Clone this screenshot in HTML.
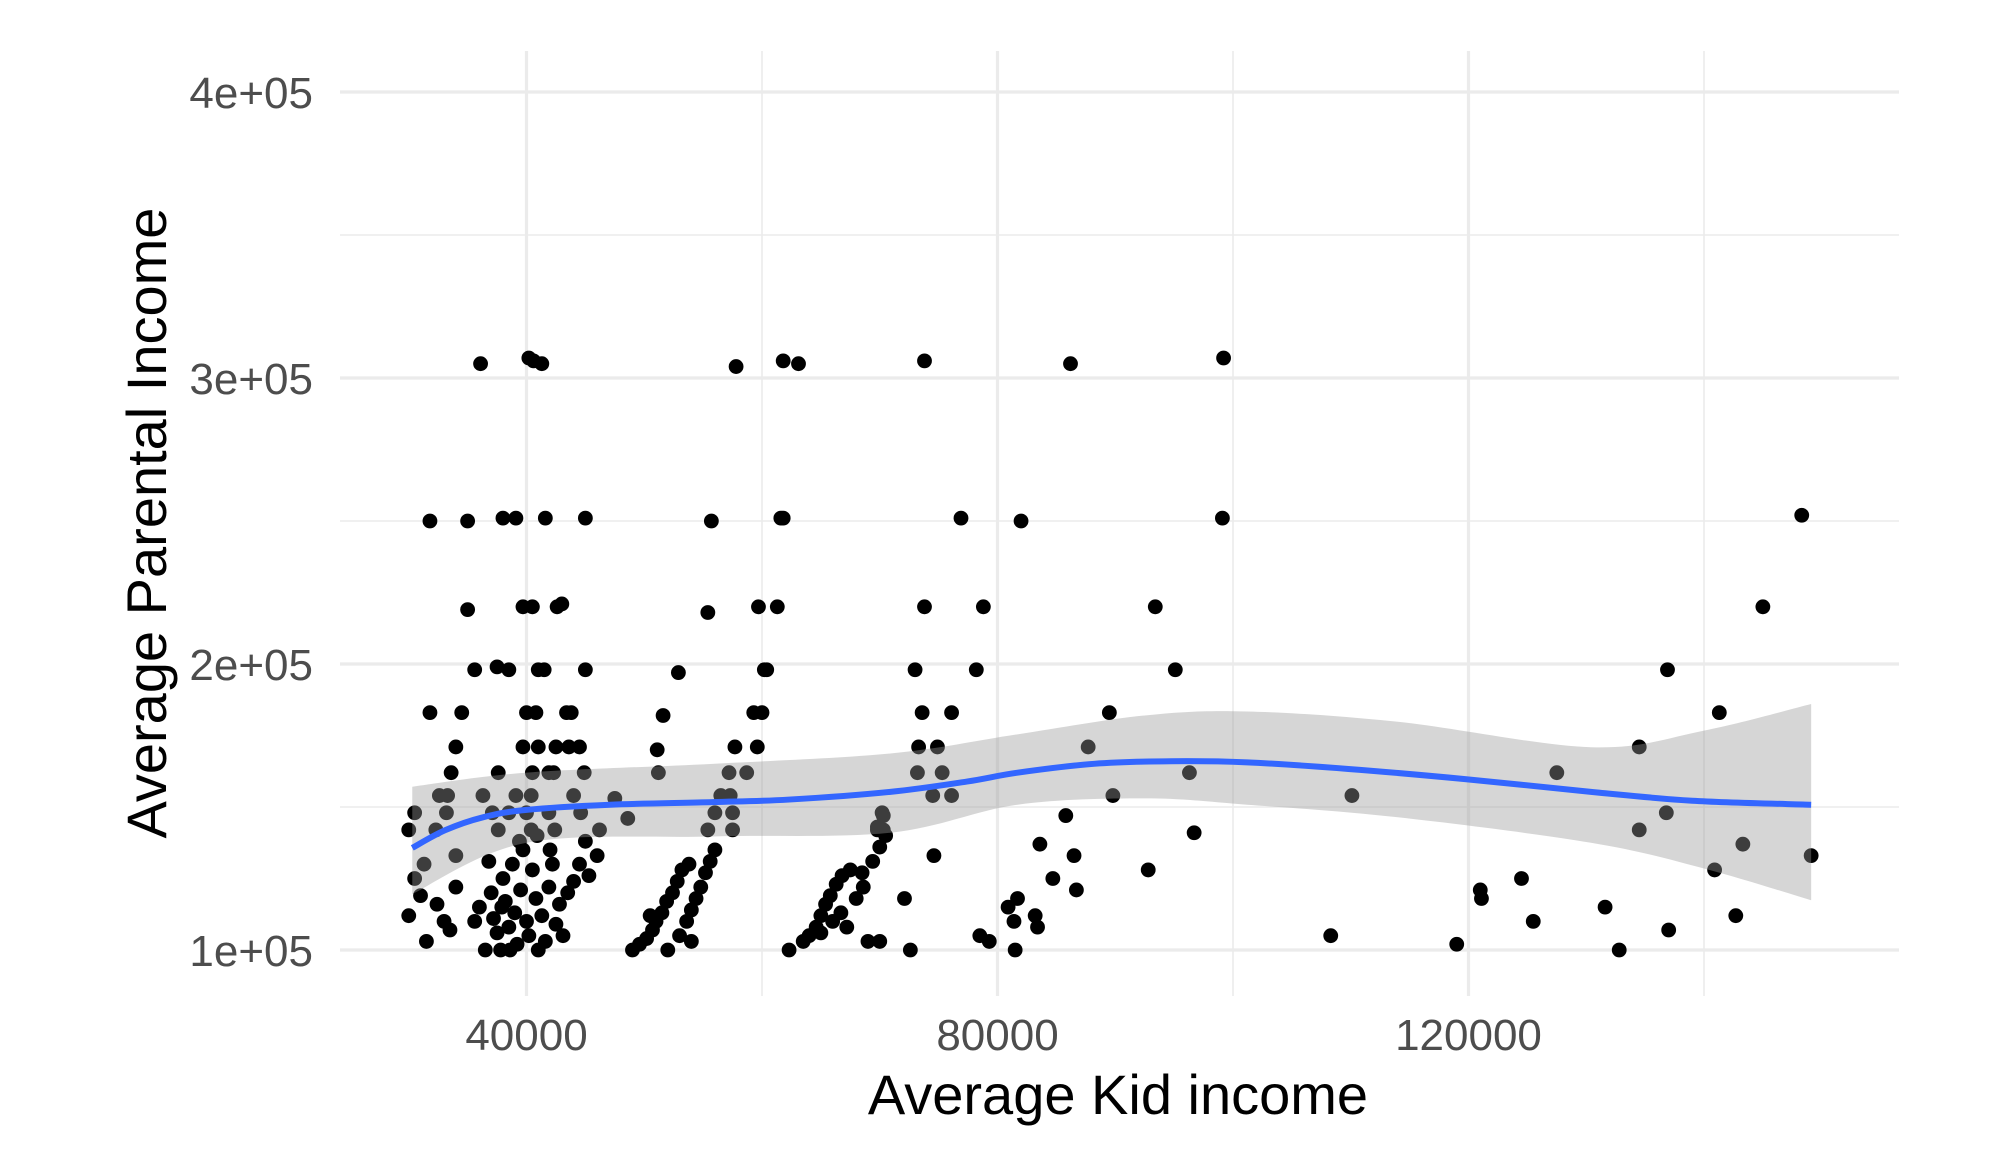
<!DOCTYPE html>
<html><head><meta charset="utf-8"><style>
html,body{margin:0;padding:0;background:#fff;}
svg{display:block;font-family:"Liberation Sans",Arial,sans-serif;}
</style></head><body>
<svg id="chart" width="1992" height="1154" viewBox="0 0 1992 1154" xmlns="http://www.w3.org/2000/svg">
<g id="grid"></g>
<g id="pts"></g>
<g id="smooth"></g>
<g id="axes"></g>
<text x="1118" y="1114" font-size="56" text-anchor="middle" fill="#000">Average Kid income</text>
<text transform="translate(166,523) rotate(-90)" font-size="56" text-anchor="middle" fill="#000">Average Parental Income</text>
</svg>
<script>
const xTicks=[40000,80000,120000];
const xTickLabels=["40000","80000","120000"];
const xMinor=[60000,100000,140000];
const yTicks=[100000,200000,300000,400000];
const yTickLabels=["1e+05","2e+05","3e+05","4e+05"];
const yMinor=[150000,250000,350000];
const ptX=[36.1,40.2,40.6,41.3,57.8,61.8,63.1,73.8,86.2,99.2,
31.8,35,38,39.1,41.6,45,55.7,61.6,61.8,76.9,82,99.1,148.3,
35,39.7,40.5,42.6,43,55.4,59.7,61.3,73.8,78.8,93.4,145,
35.6,37.5,38.5,41,41.5,45,52.9,60.2,60.4,73,78.2,95.1,136.9,
31.8,34.5,40,40.8,43.4,43.8,51.6,59.3,60,73.6,76.1,89.5,141.3,
34,39.7,41,42.5,43.6,44.5,51.1,57.7,59.6,73.3,74.9,87.7,134.5,
33.6,37.6,40.5,41.9,42.3,44.9,51.2,57.2,58.7,73.2,75.3,96.3,127.5,
32.6,33.3,36.3,39.1,40.4,44,47.5,56.5,57.3,74.5,76.1,89.8,110.1,
30.5,33.2,37.1,38.5,40,41.9,44.6,48.6,56,57.5,70.2,85.8,136.8,
30,32.3,37.6,40.4,42.4,46.2,55.4,57.5,69.8,70.3,96.7,134.5,
72.6,70,72.1,74.6,78.5,79.3,81.5,80.9,81.4,81.7,83.2,83.4,83.6,84.7,86.5,86.7,92.8,108.3,119,121,121.1,124.5,125.5,131.6,132.8,137,140.9,142.7,143.3,149.1,
30,30.5,31,31.3,31.5,32.4,33,33.5,34,34,36,36.5,37,37.2,37.5,37.8,38,38.2,38.5,38.8,39,39.2,39.5,39.7,40,40.2,40.5,40.8,41,41.3,41.6,41.9,42.2,42.5,42.8,43.1,43.5,44,44.5,45,45.3,46,39.4,38.6,40.9,36.8,37.9,42,35.6,
49,49.6,50.2,50.7,51,51.5,51.9,52.4,52.8,53.2,52,53,53.6,54,54.4,54.8,55.2,55.6,56,54,50.5,53.8,
62.3,63.5,64,64.6,65,65.4,65.8,66.3,66.8,67.5,68.5,69.4,70,70.5,69.8,70.3,65,66,66.7,67.2,68,68.6,69];
const ptY=[305,307,306,305,304,306,305,306,305,307,
250,250,251,251,251,251,250,251,251,251,250,251,252,
219,220,220,220,221,218,220,220,220,220,220,220,
198,199,198,198,198,198,197,198,198,198,198,198,198,
183,183,183,183,183,183,182,183,183,183,183,183,183,
171,171,171,171,171,171,170,171,171,171,171,171,171,
162,162,162,162,162,162,162,162,162,162,162,162,162,
154,154,154,154,154,154,153,154,154,154,154,154,154,
148,148,148,148,148,148,148,146,148,148,148,147,148,
142,142,142,142,142,142,142,142,142,142,141,142,
100,103,118,133,105,103,100,115,110,118,112,108,137,125,133,121,128,105,102,121,118,125,110,115,100,107,128,112,137,133,
112,125,119,130,103,116,110,107,122,133,115,100,120,111,106,100,125,117,108,130,113,102,121,135,110,105,128,118,100,112,103,122,130,109,116,105,120,124,130,138,126,133,138,100,140,131,115,135,110,
100,102,104,107,110,113,117,120,124,128,100,105,110,114,118,122,127,131,135,103,112,130,
100,103,105,108,112,116,119,123,126,128,127,131,136,140,143,147,106,110,113,108,118,122,103];
const fitX=[30.3,33.1,36.3,40,47.1,55.8,62.3,70.9,77.4,81.7,88.2,94.7,101.2,109.8,119.6,130.4,139,149.1];
const fitY=[135.7,141.9,146.4,149,150.8,151.7,152.6,155.3,158.9,162,165.1,166,165.6,163.3,159.8,155.3,152.2,150.8];
const bandX=[30.3,40,55.8,70.9,81.7,92.5,101.2,114,130.4,140,149.1];
const bandHi=[157.1,162,165.1,168.7,175.4,182,183.4,179.8,170.9,176.7,186];
const bandLo=[119.6,137.5,139.7,141,150.8,153,150.8,146.4,137.5,128.5,117.4];

const NS="http://www.w3.org/2000/svg";
const L=340,R=1899,T=51,B=996;
const sx=v=>526.5+(v-40000)*(471/40000);
const sy=v=>950-(v-100000)*(286/100000);
function mk(tag,attrs,parent){const e=document.createElementNS(NS,tag);for(const k in attrs)e.setAttribute(k,attrs[k]);parent.appendChild(e);return e;}
function curve(p,start){let d=start?'M'+p[0][0]+','+p[0][1]:'L'+p[0][0]+','+p[0][1];
for(let i=0;i<p.length-1;i++){const p0=p[Math.max(0,i-1)],p1=p[i],p2=p[i+1],p3=p[Math.min(p.length-1,i+2)];
const c1x=p1[0]+(p2[0]-p0[0])/6,c1y=p1[1]+(p2[1]-p0[1])/6,c2x=p2[0]-(p3[0]-p1[0])/6,c2y=p2[1]-(p3[1]-p1[1])/6;
d+='C'+c1x+','+c1y+' '+c2x+','+c2y+' '+p2[0]+','+p2[1];}return d;}
const grid=document.getElementById('grid');
yMinor.forEach(v=>{const e=mk('line',{x1:L,x2:R,y1:sy(v),y2:sy(v),stroke:'#ebebeb','stroke-width':1.6},grid);

});
xMinor.forEach(v=>{const e=mk('line',{x1:sx(v),x2:sx(v),y1:T,y2:B,stroke:'#ebebeb','stroke-width':1.6},grid);

});
yTicks.forEach(v=>{const e=mk('line',{x1:L,x2:R,y1:sy(v),y2:sy(v),stroke:'#ebebeb','stroke-width':3.2},grid);

});
xTicks.forEach(v=>{const e=mk('line',{x1:sx(v),x2:sx(v),y1:T,y2:B,stroke:'#ebebeb','stroke-width':3.2},grid);

});
const axes=document.getElementById('axes');
yTicks.forEach((v,i)=>{const t=mk('text',{x:313,y:sy(v)+16,'font-size':44,'text-anchor':'end',fill:'#4d4d4d'},axes);t.textContent=yTickLabels[i];

});
xTicks.forEach((v,i)=>{const t=mk('text',{x:sx(v),y:1050,'font-size':44,'text-anchor':'middle',fill:'#4d4d4d'},axes);t.textContent=xTickLabels[i];

});
const pts=document.getElementById('pts');
ptX.forEach((x,i)=>{const c=mk('circle',{cx:sx(x*1000),cy:sy(ptY[i]*1000),r:7.4,fill:'#000'},pts);

});
const sm=document.getElementById('smooth');
const hi=bandX.map((x,i)=>[sx(x*1000),sy(bandHi[i]*1000)]);
const lo=bandX.map((x,i)=>[sx(x*1000),sy(bandLo[i]*1000)]).reverse();
const band=mk('path',{d:curve(hi,true)+curve(lo,false)+'Z',fill:'#999999','fill-opacity':0.4},sm);


const fp=fitX.map((x,i)=>[sx(x*1000),sy(fitY[i]*1000)]);
const line=mk('path',{d:curve(fp,true),fill:'none',stroke:'#3366FF','stroke-width':6,'stroke-linejoin':'round'},sm);


</script>
</body></html>
